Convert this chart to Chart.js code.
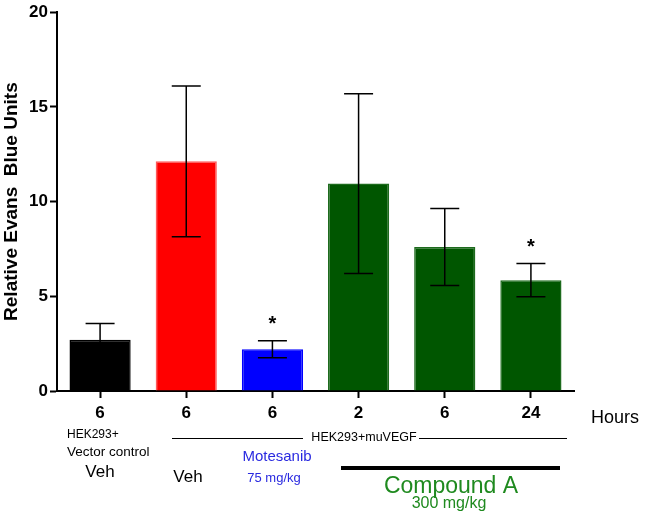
<!DOCTYPE html>
<html>
<head>
<meta charset="utf-8">
<script src="https://cdn.jsdelivr.net/npm/chart.js@4/dist/chart.umd.min.js"></script>
<style>
html,body{margin:0;padding:0;background:#fff;}
#wrap{width:646px;height:518px;}
</style>
</head>
<body>
<div id="wrap"><canvas id="c" width="646" height="518"></canvas></div>
<script>
const categories = ["6", "6", "6", "2", "6", "24"];
const groupNames = ["Vector control Veh", "muVEGF Veh", "Motesanib 75 mg/kg", "Compound A 2 h", "Compound A 6 h", "Compound A 24 h"];
const meanValues = [2.7, 12.13, 2.2, 10.95, 7.6, 5.85];
const errorValues = [0.87, 3.98, 0.45, 4.75, 2.03, 0.88];
const significant = [false, false, true, false, false, true];
const barColors = ["#000000", "#ff0000", "#0000ff", "#005600", "#005600", "#005600"];
const borderColors = ["#000000", "#ff5a5a", "#0000ff", "#1d6b1d", "#1d6b1d", "#1d6b1d"];
const yTicks = [0, 5, 10, 15, 20];

const FONT = "'Liberation Sans', Arial, sans-serif";

const errorBarPlugin = {
  id: 'errorBars',
  afterDatasetsDraw(chart) {
    const ctx = chart.ctx;
    const meta = chart.getDatasetMeta(0);
    const y = chart.scales.y;
    ctx.save();
    ctx.strokeStyle = '#000';
    ctx.lineWidth = 1.5;
    meta.data.forEach((bar, i) => {
      const x = bar.x;
      const top = y.getPixelForValue(meanValues[i] + errorValues[i]);
      const bot = y.getPixelForValue(meanValues[i] - errorValues[i]);
      ctx.beginPath();
      ctx.moveTo(x, top); ctx.lineTo(x, bot);
      ctx.moveTo(x - 14.5, top); ctx.lineTo(x + 14.5, top);
      ctx.moveTo(x - 14.5, bot); ctx.lineTo(x + 14.5, bot);
      ctx.stroke();
      if (significant[i]) {
        ctx.fillStyle = '#000';
        ctx.font = 'bold 20px ' + FONT;
        ctx.textAlign = 'center';
        ctx.textBaseline = 'middle';
        ctx.fillText('*', x, top - 16);
      }
    });
    ctx.restore();
  }
};

const annotationPlugin = {
  id: 'annotations',
  afterDraw(chart) {
    const ctx = chart.ctx;
    ctx.save();
    ctx.textBaseline = 'middle';
    function txt(s, x, y, font, color, align) {
      ctx.font = font + ' ' + FONT;
      ctx.fillStyle = color;
      ctx.textAlign = align || 'center';
      ctx.fillText(s, x, y);
    }
    function line(x1, x2, y, w) {
      ctx.beginPath();
      ctx.strokeStyle = '#000';
      ctx.lineWidth = w;
      ctx.moveTo(x1, y); ctx.lineTo(x2, y);
      ctx.stroke();
    }
    txt('Hours', 591, 418, '18px', '#000', 'left');
    txt('HEK293+', 67, 435, '12px', '#000', 'left');
    txt('Vector control', 67, 452, '13.5px', '#000', 'left');
    txt('Veh', 100, 472, '17px', '#000');
    line(172, 303, 438.5, 1);
    line(419, 567, 438.5, 1);
    txt('HEK293+muVEGF', 364, 438, '12.5px', '#000');
    txt('Veh', 188, 477, '17px', '#000');
    txt('Motesanib', 277, 457, '15px', '#2a2ae0');
    txt('75 mg/kg', 274, 478, '13px', '#2a2ae0');
    line(341, 560, 468, 4);
    txt('Compound A', 451, 487, '23px', '#1f8a1f');
    txt('300 mg/kg', 449, 504, '16px', '#1f8a1f');
    ctx.restore();
  }
};

new Chart(document.getElementById('c'), {
  type: 'bar',
  data: {
    labels: categories,
    datasets: [{
      label: 'Relative Evans Blue Units',
      data: meanValues,
      backgroundColor: barColors,
      borderColor: borderColors,
      borderWidth: 1.5,
      borderSkipped: 'bottom',
      barPercentage: 0.71,
      categoryPercentage: 1.0
    }]
  },
  options: {
    responsive: false,
    animation: false,
    devicePixelRatio: 1,
    layout: { padding: { top: 10, right: 72, left: 0, bottom: 0 } },
    plugins: { legend: { display: false }, tooltip: { enabled: false } },
    scales: {
      x: {
        grid: { display: true, drawOnChartArea: false, offset: false, tickLength: 7, tickWidth: 2, tickColor: '#000' },
        border: { display: true, color: '#000', width: 2 },
        ticks: { color: '#000', font: { family: FONT, size: 17, weight: 'bold' }, padding: 5, maxRotation: 0 },
        afterFit(scale) { scale.height = 127; }
      },
      y: {
        min: 0, max: 20,
        afterBuildTicks(scale) { scale.ticks = yTicks.map(v => ({ value: v })); },
        grid: { display: true, drawOnChartArea: false, tickLength: 7, tickWidth: 2, tickColor: '#000' },
        border: { display: true, color: '#000', width: 2 },
        ticks: { color: '#000', font: { family: FONT, size: 17, weight: 'bold' }, padding: 2 },
        title: { display: true, text: 'Relative Evans  Blue Units', color: '#000', font: { family: FONT, size: 19, weight: 'bold' }, padding: 0 },
        afterFit(scale) { scale.width = 57; }
      }
    }
  },
  plugins: [errorBarPlugin, annotationPlugin]
});
</script>
</body>
</html>
